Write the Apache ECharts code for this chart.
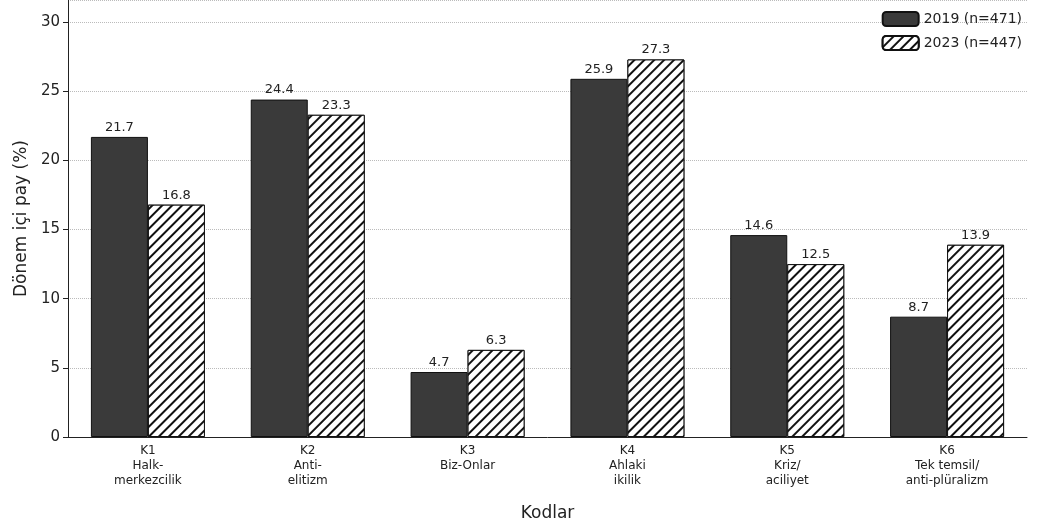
<!DOCTYPE html><html><head><meta charset="utf-8"><script src="https://cdn.jsdelivr.net/npm/echarts@6/dist/echarts.min.js"></script></head><body style="margin:0"><div id="c" style="width:1039px;height:531px"></div><script>
const categories=["K1\nHalk-\nmerkezcilik","K2\nAnti-\nelitizm","K3\nBiz-Onlar","K4\nAhlaki\nikilik","K5\nKriz/\naciliyet","K6\nTek temsil/\nanti-plüralizm"];
const v2019=[21.7,24.4,4.7,25.9,14.6,8.7];
const v2023=[16.8,23.3,6.3,27.3,12.5,13.9];
const F='DejaVu Sans';
const lbl={show:true,position:'top',color:'#222',fontFamily:F,fontSize:13,distance:3,formatter:p=>p.value.toFixed(1)};
const ch=echarts.init(document.getElementById('c'));
ch.setOption({animation:false,textStyle:{fontFamily:F},
grid:{left:68,right:12,top:0,bottom:94},
legend:{top:6,right:12,orient:'vertical',itemWidth:36,itemHeight:14,itemGap:8,textStyle:{fontSize:14,fontFamily:F,color:'#222'},data:['2019 (n=471)','2023 (n=447)']},
xAxis:{type:'category',data:categories,name:'Kodlar',nameLocation:'middle',nameGap:68,nameTextStyle:{fontSize:17,color:'#222'},axisLine:{lineStyle:{color:'#222'}},axisTick:{alignWithLabel:true,lineStyle:{color:'#222'}},axisLabel:{interval:0,fontSize:12,color:'#222',lineHeight:15,margin:6}},
yAxis:{type:'value',min:0,max:31.6,interval:5,name:'Dönem içi pay (%)',nameLocation:'middle',nameGap:38,nameTextStyle:{fontSize:17,color:'#222'},axisLine:{show:true,lineStyle:{color:'#222'}},axisTick:{show:true,lineStyle:{color:'#222'}},axisLabel:{fontSize:15,color:'#222',showMaxLabel:false,formatter:v=>v%5===0?v:''},splitLine:{lineStyle:{color:'#bbb',type:'dotted'}}},
series:[{name:'2019 (n=471)',type:'bar',data:v2019,barWidth:57,barGap:'0%',itemStyle:{color:'#3a3a3a',borderColor:'#111',borderWidth:1},label:lbl},
{name:'2023 (n=447)',type:'bar',data:v2023,barWidth:57,itemStyle:{color:'#fff',borderColor:'#111',borderWidth:1,decal:{symbol:'rect',symbolSize:1,dashArrayX:[1,0],dashArrayY:[2,5],rotation:-Math.PI/4,color:'#111',backgroundColor:'#fff'}},label:lbl}]});
</script></body></html>
